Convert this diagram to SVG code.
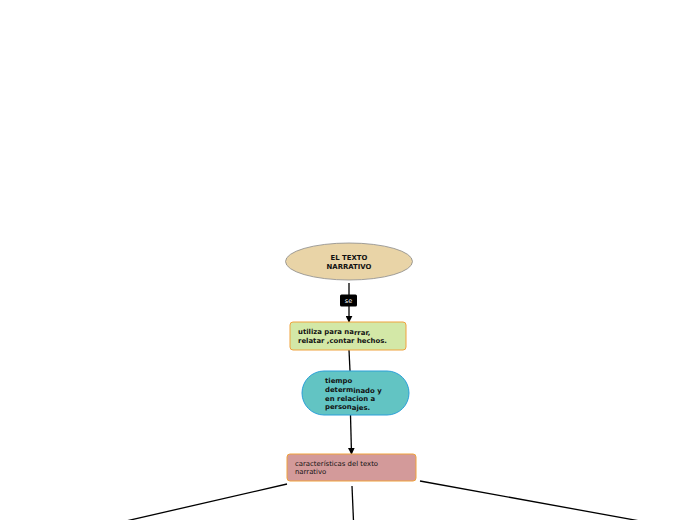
<svg xmlns="http://www.w3.org/2000/svg" width="696" height="520" viewBox="0 0 696 520">
<defs>
<style>
.t{font-family:"DejaVu Sans",Verdana,sans-serif;font-size:6.9px;fill:#111}
.b{font-weight:bold}
.ln{stroke:#000;stroke-width:1.3;fill:none}
</style>
<marker id="ah" viewBox="0 0 10 10" refX="9" refY="5" markerWidth="7" markerHeight="7" orient="auto" markerUnits="userSpaceOnUse">
<path d="M0,0 L10,5 L0,10 z" fill="#000"/>
</marker>
</defs>
<rect width="696" height="520" fill="#fff"/>
<g id="connectors">
<line class="ln" x1="349" y1="283" x2="349" y2="322" marker-end="url(#ah)"/>
<line class="ln" x1="349" y1="350" x2="350" y2="371"/>
<line class="ln" x1="350.5" y1="415" x2="351.5" y2="454" marker-end="url(#ah)"/>
<line class="ln" x1="287" y1="484" x2="126" y2="521"/>
<line class="ln" x1="352" y1="486" x2="353.5" y2="521"/>
<line class="ln" x1="420" y1="481" x2="640" y2="521"/>
<g id="label-se">
<rect x="340" y="294.5" width="17" height="12" rx="1.5" fill="#000"/>
<text class="t" x="348.5" y="303" text-anchor="middle" style="fill:#fff;font-size:6.5px">se</text>
</g>
</g>
<g id="node-texto">
<ellipse cx="349" cy="261.5" rx="63.5" ry="18.5" fill="#e9d4a7" stroke="#8a8a8a" stroke-width="0.8"/>
<text class="t b" x="349" y="260" text-anchor="middle">EL TEXTO</text>
<text class="t b" x="349" y="268.5" text-anchor="middle">NARRATIVO</text>
</g>
<g id="node-utiliza">
<rect x="290" y="322" width="116" height="28" rx="3" fill="#d3e8a7" stroke="#f0a23c" stroke-width="1"/>
<text class="t b" x="298" y="334">utiliza para na<tspan dy="0.8">rrar,</tspan></text>
<text class="t b" x="298" y="343">relatar ,contar hechos.</text>
</g>
<g id="node-tiempo">
<rect x="302" y="371" width="107" height="44" rx="22" fill="#62c4c3" stroke="#2a9fd8" stroke-width="1"/>
<text class="t b" x="325" y="383">tiempo</text>
<text class="t b" x="325" y="392">determ<tspan dy="0.8">inado y</tspan></text>
<text class="t b" x="325" y="401">en relacion a</text>
<text class="t b" x="325" y="409">person<tspan dy="0.8">ajes.</tspan></text>
</g>
<g id="node-caracteristicas">
<rect x="287" y="454" width="129" height="27" rx="3" fill="#d39a9a" stroke="#f0a23c" stroke-width="1"/>
<text class="t" x="295" y="466">características del texto</text>
<text class="t" x="295" y="474">narrativo</text>
</g>
</svg>
